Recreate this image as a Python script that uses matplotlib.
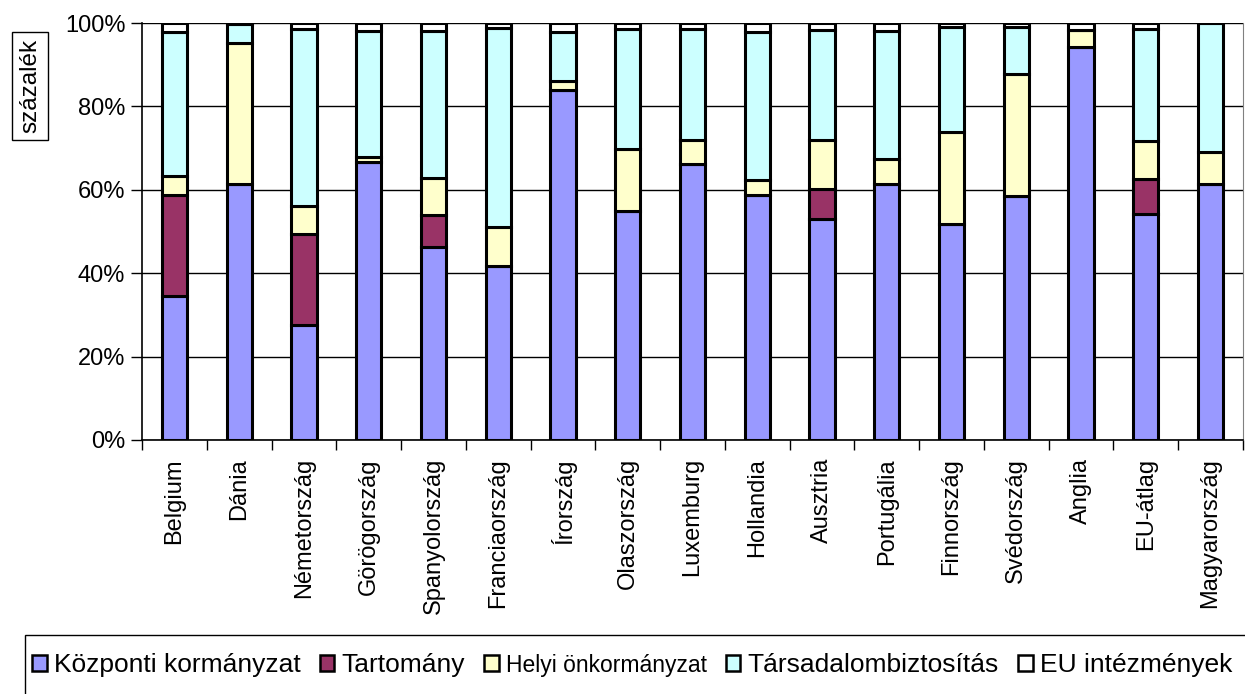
import numpy as np
import matplotlib.pyplot as plt
from matplotlib.patches import Patch, Rectangle

plt.rcParams['font.family'] = ['Liberation Sans', 'DejaVu Sans']

countries = ['Belgium', 'Dánia', 'Németország', 'Görögország', 'Spanyolország',
             'Franciaország', 'Írország', 'Olaszország', 'Luxemburg', 'Hollandia',
             'Ausztria', 'Portugália', 'Finnország', 'Svédország', 'Anglia',
             'EU-átlag', 'Magyarország']

kozponti = [34.5, 61.4, 27.6, 66.7, 46.3, 41.7, 84.0, 54.8, 66.3, 58.7,
            52.9, 61.5, 51.8, 58.5, 94.3, 54.2, 61.5]
tartomany = [24.2, 0.0, 21.8, 0.0, 7.7, 0.0, 0.0, 0.0, 0.0, 0.0,
             7.4, 0.0, 0.0, 0.0, 0.0, 8.3, 0.0]
helyi = [4.7, 33.9, 6.8, 1.2, 8.9, 9.4, 2.1, 15.1, 5.7, 3.6,
         11.7, 6.0, 22.1, 29.3, 4.1, 9.1, 7.5]
tarsadalom = [34.5, 4.5, 42.4, 30.3, 35.3, 47.6, 11.8, 28.7, 26.6, 35.6,
              26.3, 30.7, 25.1, 11.2, 0.0, 26.9, 31.0]
eu = [2.1, 0.2, 1.4, 1.8, 1.8, 1.3, 2.1, 1.4, 1.4, 2.1,
      1.7, 1.8, 1.0, 1.0, 1.6, 1.5, 0.0]

series = [kozponti, tartomany, helyi, tarsadalom, eu]
names = ['Központi kormányzat', 'Tartomány', 'Helyi önkormányzat',
         'Társadalombiztosítás', 'EU intézmények']
colors = ['#9999FF', '#993366', '#FFFFCC', '#CCFFFF', '#FFFFFF']

fig = plt.figure(figsize=(12.45, 6.94), dpi=100)
ax = fig.add_axes([142/1245, 1-440/694, (1243-142)/1245, (440-23)/694])

x = np.arange(len(countries))
bottom = np.zeros(len(countries))
for vals, c in zip(series, colors):
    vals = np.array(vals)
    ax.bar(x, vals, bottom=bottom, width=0.39, color=c, edgecolor='black',
           linewidth=2.2, zorder=3)
    bottom += vals

ax.set_xlim(-0.5, len(countries)-0.5)
ax.set_ylim(0, 100)
ax.set_yticks(np.arange(0, 101, 20))
ax.set_yticklabels([f'{v}%' for v in range(0, 101, 20)], fontsize=17)
ax.yaxis.grid(True, color='black', linewidth=1)
ax.set_axisbelow(True)

ax.set_xticks(x)
ax.set_xticklabels(countries, rotation=90, fontsize=17, va='top')
ax.set_xticks(np.arange(-0.5, len(countries)), minor=True)
ax.tick_params(axis='x', which='major', length=0, pad=13)
ax.tick_params(axis='x', which='minor', length=7, width=1, direction='out')
ax.tick_params(axis='y', length=8, width=1, direction='out', pad=4)

for s in ['left', 'bottom']:
    ax.spines[s].set_color('black')
    ax.spines[s].set_linewidth(1.2)
ax.spines['top'].set_visible(False)
ax.spines['right'].set_color('#808080')

fig.text(30/1245, 1-86/694, 'százalék', rotation=90, fontsize=17.5,
         ha='center', va='center',
         bbox=dict(boxstyle='square,pad=0.3', fc='white', ec='black', lw=1))

# legend frame
fig.patches.append(Rectangle((25/1245, -0.05), 1.0, 1-635/694+0.05,
                             transform=fig.transFigure, fill=False,
                             edgecolor='black', linewidth=1))
handles = [Patch(facecolor=c, edgecolor='black', linewidth=1.8) for c in colors]
leg = fig.legend(handles, names, loc='center left', ncol=5,
                 bbox_to_anchor=(32/1245, 1-665/694), frameon=False,
                 fontsize=19, handlelength=0.55, handleheight=0.55,
                 handletextpad=0.28, columnspacing=0.72, borderaxespad=0,
                 borderpad=0)
leg.get_texts()[2].set_fontsize(16.5)

fig.savefig('out.png', dpi=100)
